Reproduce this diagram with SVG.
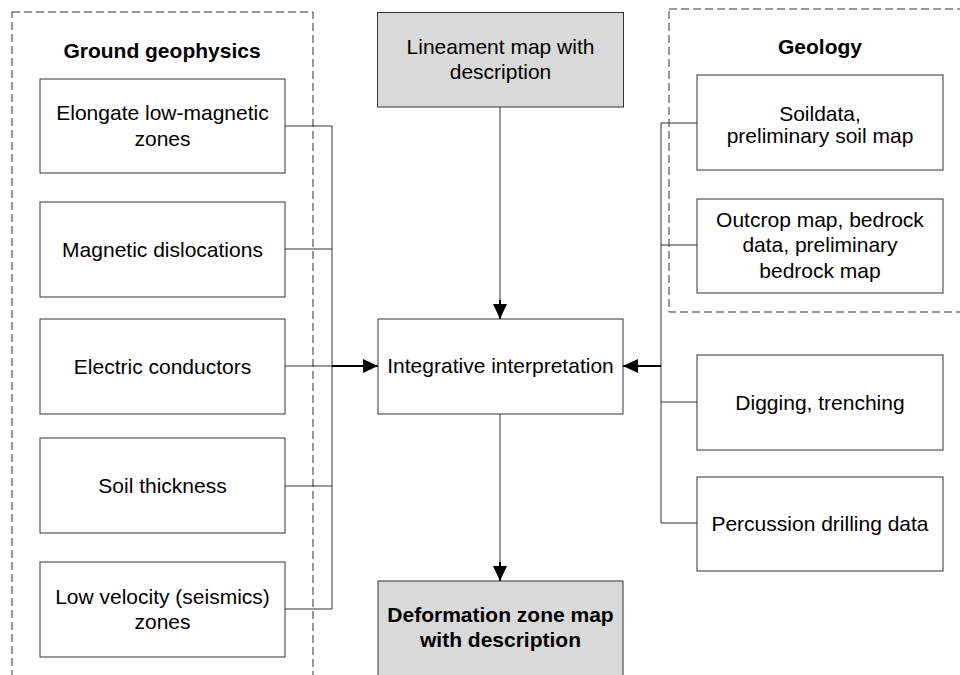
<svg xmlns="http://www.w3.org/2000/svg" width="960" height="675" viewBox="0 0 960 675">
<style>
.box{fill:#fff;stroke:#333;stroke-width:1}
.gray{fill:#d9d9d9;stroke:#333;stroke-width:1}
.grp{fill:none;stroke:#333;stroke-width:1;stroke-dasharray:8 4}
.t{font-family:"Liberation Sans",Arial,sans-serif;font-size:21px;fill:#000;text-anchor:middle}
.b{font-weight:bold}
.ln{fill:none;stroke:#333;stroke-width:1}
.arr{fill:none;stroke:#000;stroke-width:2}
</style>
<defs>
<marker id="ah" markerWidth="15" markerHeight="14" refX="15" refY="7" orient="auto" markerUnits="userSpaceOnUse">
<path d="M0,0 L15,7 L0,14 Z" fill="#000"/>
</marker>
</defs>
<rect width="960" height="675" fill="#fff"/>
<g id="group-geophysics">
<rect class="grp" x="12" y="12" width="301" height="680"/>
<text class="t b" x="162" y="58">Ground geophysics</text>
</g>
<g id="group-geology">
<rect class="grp" x="669" y="9" width="320" height="303"/>
<text class="t b" x="820" y="54">Geology</text>
</g>
<g id="connectors">
<polyline class="ln" points="285,126 332,126 332,609 285,609"/>
<line class="ln" x1="285" y1="249" x2="332" y2="249"/>
<line class="ln" x1="285" y1="366" x2="332" y2="366"/>
<line class="ln" x1="285" y1="486" x2="332" y2="486"/>
<line class="arr" x1="332" y1="366" x2="378" y2="366" marker-end="url(#ah)"/>
<polyline class="ln" points="697,123 661,123 661,523 697,523"/>
<line class="ln" x1="661" y1="245" x2="697" y2="245"/>
<line class="ln" x1="661" y1="402" x2="697" y2="402"/>
<line class="arr" x1="661" y1="366" x2="623" y2="366" marker-end="url(#ah)"/>
<line class="ln" x1="500" y1="107" x2="500" y2="306"/>
<line class="arr" x1="500" y1="300" x2="500" y2="319" marker-end="url(#ah)"/>
<line class="ln" x1="500" y1="414" x2="500" y2="568"/>
<line class="arr" x1="500" y1="562" x2="500" y2="581" marker-end="url(#ah)"/>
</g>
<g id="n-elongate">
<rect class="box" x="40" y="79" width="245" height="94"/>
<text class="t" x="162.5" y="120">Elongate low-magnetic</text>
<text class="t" x="162.5" y="146">zones</text>
</g>
<g id="n-magnetic">
<rect class="box" x="40" y="202" width="245" height="95"/>
<text class="t" x="162.5" y="256.5">Magnetic dislocations</text>
</g>
<g id="n-electric">
<rect class="box" x="40" y="319" width="245" height="95"/>
<text class="t" x="162.5" y="373.5">Electric conductors</text>
</g>
<g id="n-soilthick">
<rect class="box" x="40" y="438" width="245" height="95"/>
<text class="t" x="162.5" y="493">Soil thickness</text>
</g>
<g id="n-lowvel">
<rect class="box" x="40" y="562" width="245" height="95"/>
<text class="t" x="162.5" y="603.5">Low velocity (seismics)</text>
<text class="t" x="162.5" y="628.5">zones</text>
</g>
<g id="n-lineament">
<rect class="gray" x="377.5" y="12.5" width="246" height="94.5"/>
<text class="t" x="500.5" y="53.5">Lineament map with</text>
<text class="t" x="500.5" y="78.5">description</text>
</g>
<g id="n-integrative">
<rect class="box" x="378" y="319" width="245" height="95"/>
<text class="t" x="500.5" y="373">Integrative interpretation</text>
</g>
<g id="n-deformation">
<rect class="gray" x="378" y="581" width="245" height="110"/>
<text class="t b" x="500.5" y="622">Deformation zone map</text>
<text class="t b" x="500.5" y="647">with description</text>
</g>
<g id="n-soildata">
<rect class="box" x="697" y="75" width="246" height="95"/>
<text class="t" x="820" y="121">Soildata,</text>
<text class="t" x="820" y="143">preliminary soil map</text>
</g>
<g id="n-outcrop">
<rect class="box" x="697" y="199" width="246" height="94"/>
<text class="t" x="820" y="226.5">Outcrop map, bedrock</text>
<text class="t" x="820" y="252">data, preliminary</text>
<text class="t" x="820" y="278">bedrock map</text>
</g>
<g id="n-digging">
<rect class="box" x="697" y="355" width="246" height="95"/>
<text class="t" x="820" y="409.5">Digging, trenching</text>
</g>
<g id="n-percussion">
<rect class="box" x="697" y="477" width="246" height="94"/>
<text class="t" x="820" y="530.5">Percussion drilling data</text>
</g>
</svg>
